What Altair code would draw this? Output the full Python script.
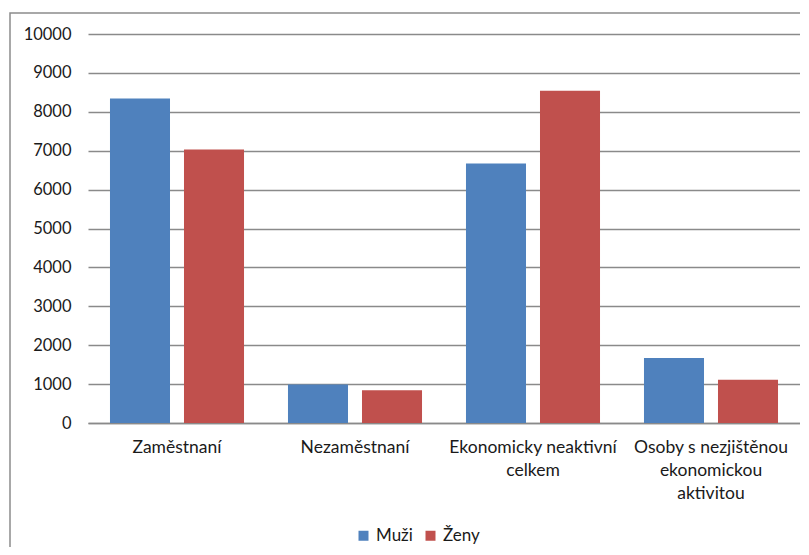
import altair as alt
import pandas as pd

categories = ["Zaměstnaní", "Nezaměstnaní", "Ekonomicky neaktivní celkem",
              "Osoby s nezjištěnou ekonomickou aktivitou"]
label_lines = [["Zaměstnaní"], ["Nezaměstnaní"], ["Ekonomicky neaktivní", "celkem"],
               ["Osoby s nezjištěnou", "ekonomickou", "aktivitou"]]
series = ["Muži", "Ženy"]
muzi = [8340, 990, 6670, 1670]
zeny = [7030, 840, 8540, 1110]
colors = ["#4F81BD", "#C0504D"]

rows = []
for c, m, z in zip(categories, muzi, zeny):
    rows.append({"kat": c, "pohlavi": "Muži", "hodnota": m})
    rows.append({"kat": c, "pohlavi": "Ženy", "hodnota": z})
df = pd.DataFrame(rows)

expr_parts = []
for c, lines in zip(categories, label_lines):
    arr = "[" + ",".join("'" + l + "'" for l in lines) + "]"
    expr_parts.append(f"datum.value == '{c}' ? {arr}")
label_expr = " : ".join(expr_parts) + " : datum.value"

FONT = "Lato"

bars = alt.Chart(df).mark_bar().encode(
    x=alt.X("kat:N", sort=categories, title=None,
            scale=alt.Scale(paddingInner=0, paddingOuter=0),
            axis=alt.Axis(labelAngle=0, labelExpr=label_expr, ticks=False,
                          domainColor="#8a8a8a", domainWidth=1.3,
                          labelPadding=15, labelFontSize=17.5, labelFont=FONT,
                          labelColor="#1a1a1a", labelLineHeight=23,
                          labelLimit=300)),
    xOffset=alt.XOffset("pohlavi:N", sort=series,
                        scale=alt.Scale(paddingInner=0.189, paddingOuter=0.297)),
    y=alt.Y("hodnota:Q", title=None,
            scale=alt.Scale(domain=[0, 10000], nice=False),
            axis=alt.Axis(values=list(range(0, 10001, 1000)), format="d", ticks=False,
                          domain=False, gridColor="#8a8a8a", gridWidth=1.3,
                          labelPadding=17, labelFontSize=16.5, labelFont=FONT,
                          labelColor="#1a1a1a")),
    color=alt.Color("pohlavi:N", sort=series,
                    scale=alt.Scale(domain=series, range=colors),
                    legend=alt.Legend(title=None, orient="none", direction="horizontal",
                                      legendX=267, legendY=493,
                                      symbolType="square", symbolSize=100,
                                      symbolStrokeWidth=0,
                                      labelFontSize=17, labelFont=FONT,
                                      labelColor="#1a1a1a", columnPadding=9,
                                      labelOffset=4)),
)

border = alt.Chart(pd.DataFrame({"a": [0]})).mark_rect(
    fill=None, stroke="#8c8c8c", strokeWidth=1.5
).encode(x=alt.value(-78), x2=alt.value(1000), y=alt.value(-21), y2=alt.value(800))

chart = alt.layer(border, bars).properties(
    width=712, height=389,
    autosize=alt.AutoSizeParams(type="none"),
    padding={"left": 80, "top": 26, "right": 0, "bottom": 124},
).configure_view(stroke=None)

chart.save("out.html", embed_options={"renderer": "svg", "actions": False})
